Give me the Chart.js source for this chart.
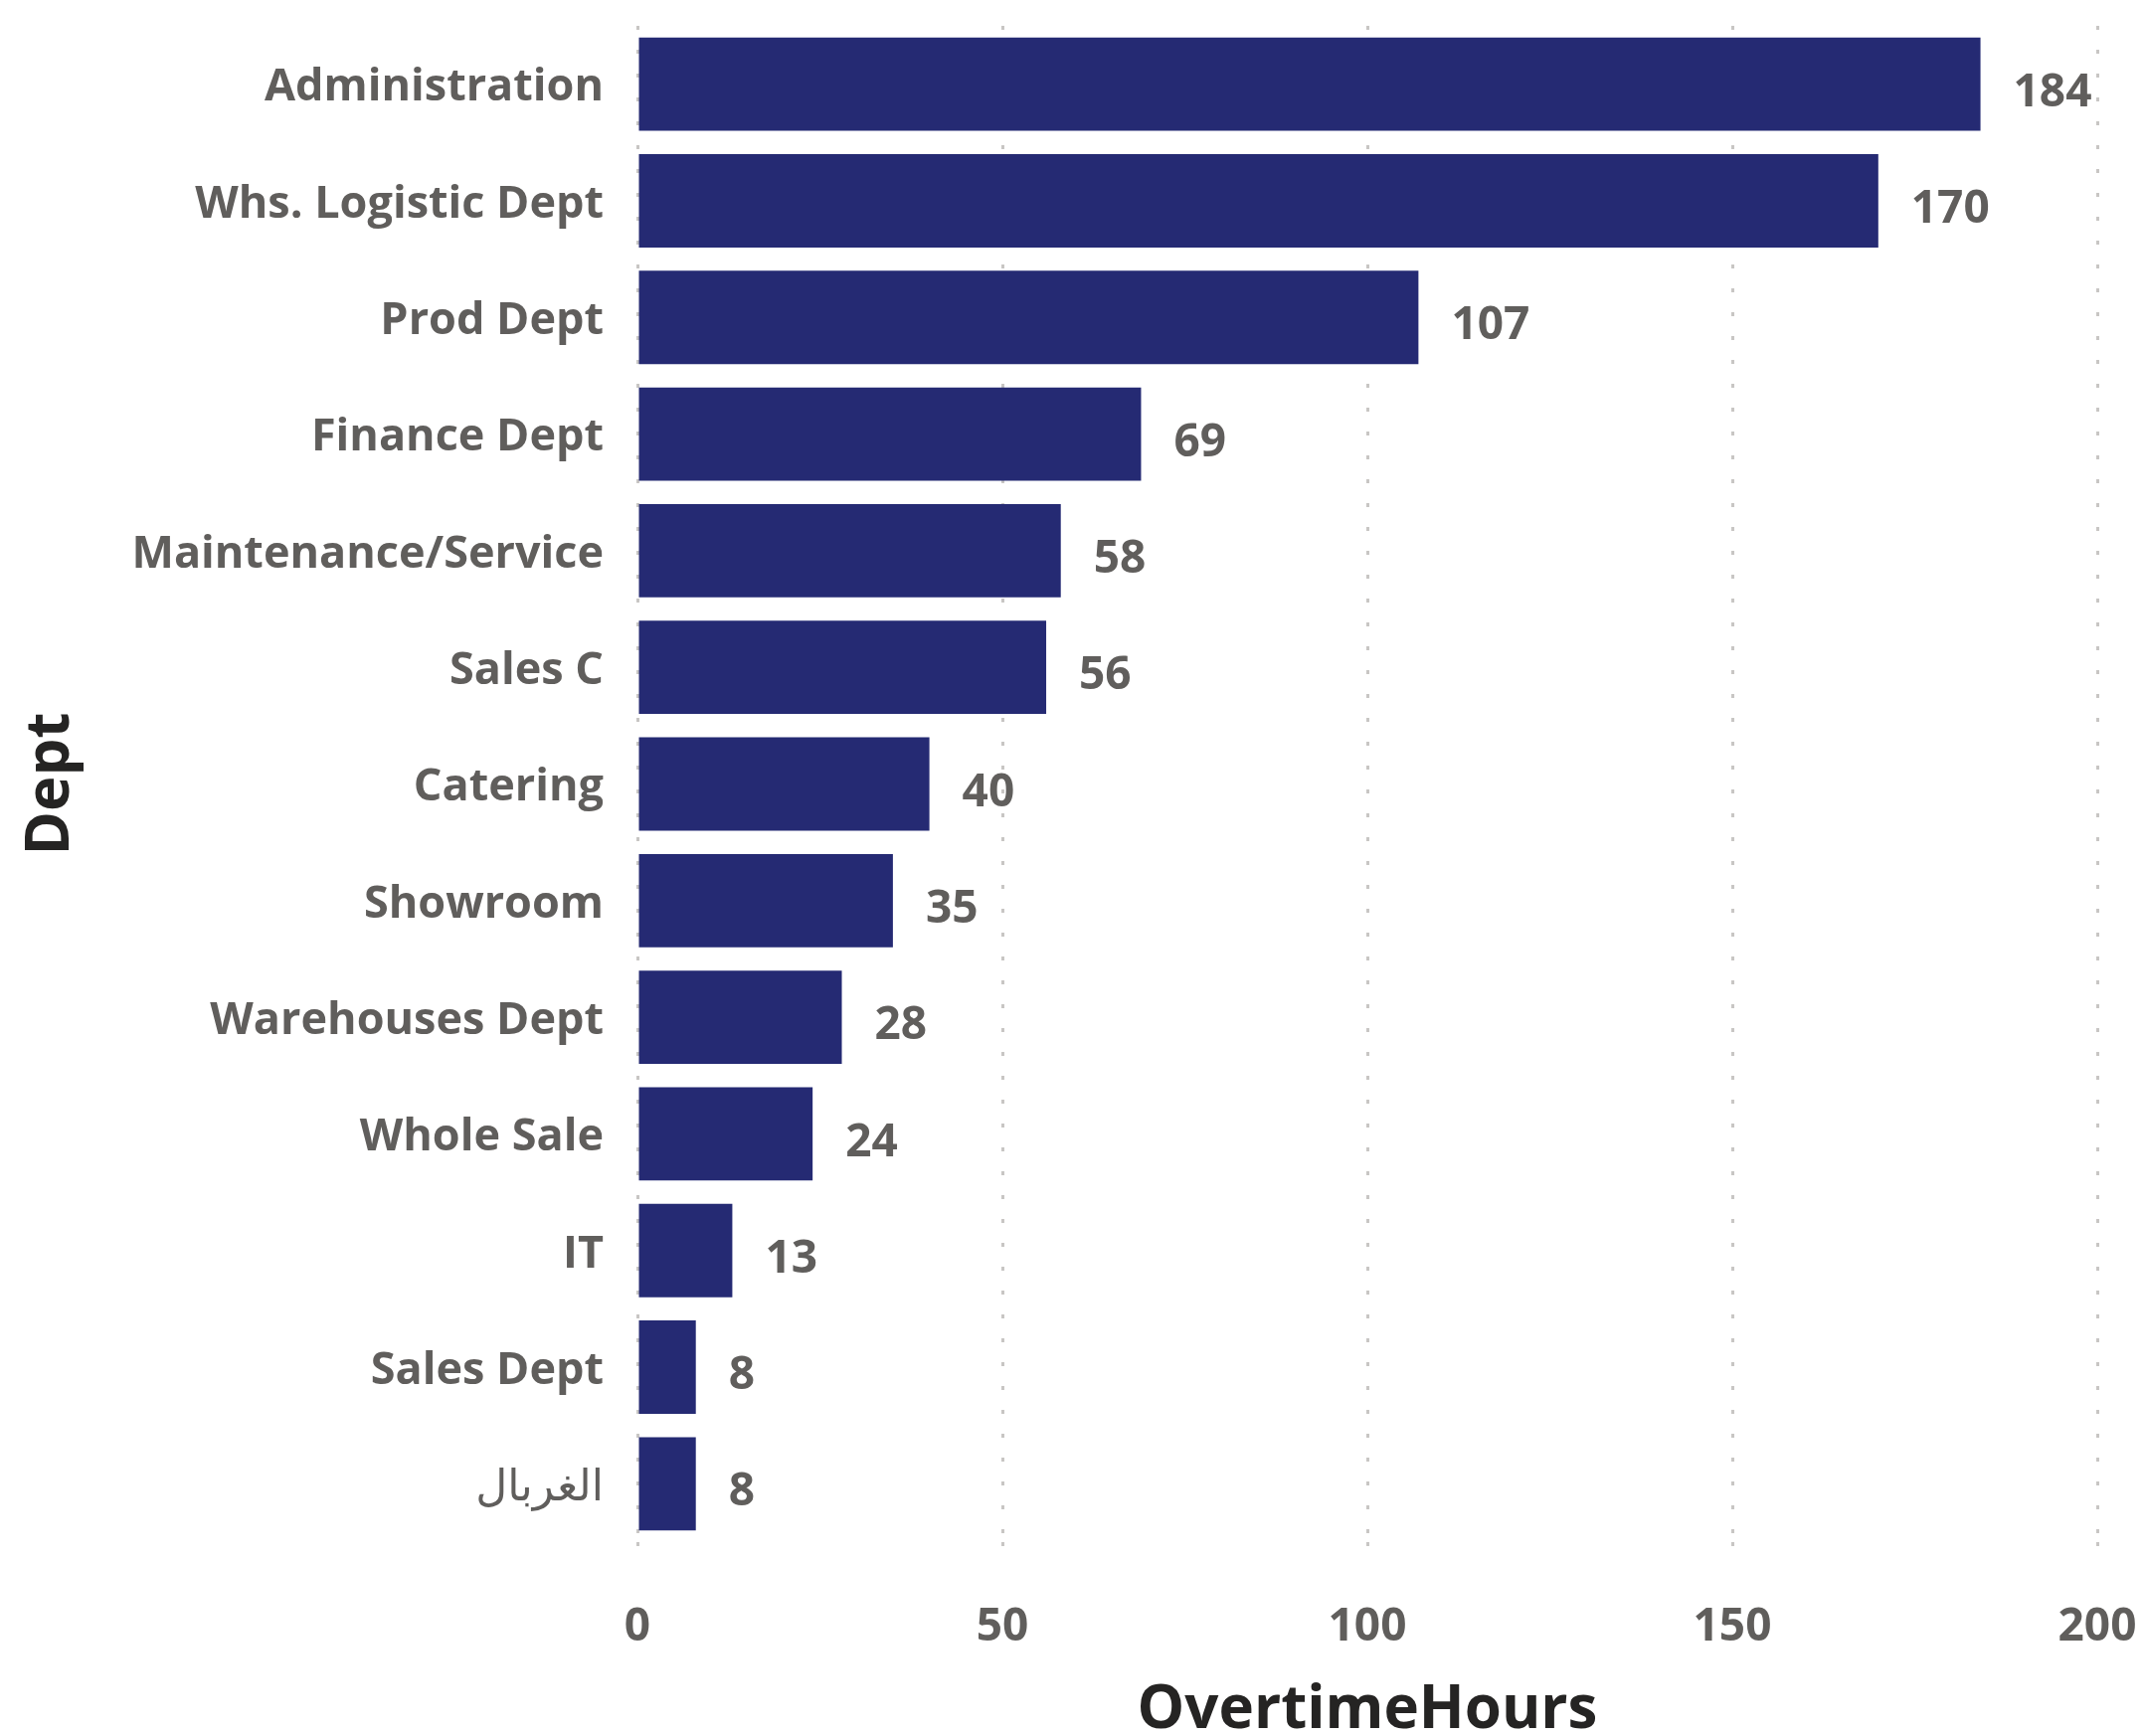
<!DOCTYPE html>
<html>
<head>
<meta charset="utf-8">
<style>
  html, body { margin: 0; padding: 0; background: #ffffff; }
  #wrap { width: 2157px; height: 1746px; }
</style>
<script src="https://cdn.jsdelivr.net/npm/chart.js@4.4.1/dist/chart.umd.min.js"></script>
</head>
<body>
<div id="wrap"><canvas id="c" width="2157" height="1746"></canvas></div>
<script>
const departments = ["Administration", "Whs. Logistic Dept", "Prod Dept", "Finance Dept", "Maintenance/Service", "Sales C", "Catering", "Showroom", "Warehouses Dept", "Whole Sale", "IT", "Sales Dept", "الغربال"];
const overtimeHours = [184, 170, 107, 69, 58, 56, 40, 35, 28, 24, 13, 8, 8];
const xTicks = [0, 50, 100, 150, 200];
const xTitle = "OvertimeHours";
const yTitle = "Dept";

const FAMILY = "'Open Sans', 'DejaVu Sans', sans-serif";
const LABEL_COLOR = "#605E5C";
const TITLE_COLOR = "#252423";
const BAR_COLOR = "#252A73";

const dataLabels = {
  id: 'dataLabels',
  afterDatasetsDraw(chart) {
    const ctx = chart.ctx;
    const meta = chart.getDatasetMeta(0);
    const values = chart.data.datasets[0].data;
    ctx.save();
    ctx.font = "bold 46px " + FAMILY;
    ctx.fillStyle = LABEL_COLOR;
    ctx.textAlign = 'left';
    ctx.textBaseline = 'middle';
    meta.data.forEach((bar, i) => {
      ctx.fillText(String(values[i]), bar.x + 33, bar.y + 9);
    });
    ctx.restore();
  }
};

new Chart(document.getElementById('c'), {
  type: 'bar',
  data: {
    labels: departments,
    datasets: [{
      data: overtimeHours,
      backgroundColor: BAR_COLOR,
      borderWidth: 0,
      categoryPercentage: 1.0,
      barPercentage: 0.8
    }]
  },
  options: {
    indexAxis: 'y',
    responsive: false,
    animation: false,
    devicePixelRatio: 1,
    layout: { padding: { left: 0, right: 48, top: 26, bottom: 0 } },
    plugins: { legend: { display: false }, tooltip: { enabled: false } },
    scales: {
      x: {
        type: 'linear',
        min: 0,
        max: 200,
        afterBuildTicks(scale) { scale.ticks = xTicks.map(v => ({ value: v })); },
        afterFit(scale) {
          scale.height = 195;
          scale.paddingLeft = 0; scale.paddingRight = 0;
        },
        border: { display: false, dash: [4, 20] },
        grid: {
          color: '#C8C6C4',
          lineWidth: 3,
          drawTicks: true,
          tickLength: 11,
          tickColor: '#C8C6C4',
          tickWidth: 3,
          tickBorderDash: [4, 20]
        },
        ticks: {
          color: LABEL_COLOR,
          font: { family: FAMILY, size: 46, weight: 'bold' },
          padding: 47
        },
        title: {
          display: true,
          text: xTitle,
          color: TITLE_COLOR,
          font: { family: FAMILY, size: 60, weight: 'bold', lineHeight: 1 },
          padding: { top: 0, bottom: -5 }
        }
      },
      y: {
        type: 'category',
        afterFit(scale) {
          scale.width = 641;
          scale.paddingTop = 0; scale.paddingBottom = 0;
        },
        border: { display: false },
        grid: { display: false },
        ticks: {
          color: LABEL_COLOR,
          padding: 26,
          labelOffset: 4,
          font: (ctx) => {
            const lbl = departments[ctx.index] || '';
            const arabic = /[\u0600-\u06FF]/.test(lbl);
            return arabic
              ? { family: FAMILY, size: 44, weight: 'normal' }
              : { family: FAMILY, size: 45, weight: 'bold' };
          }
        },
        title: {
          display: true,
          text: yTitle,
          color: TITLE_COLOR,
          font: { family: FAMILY, size: 60, weight: 'bold', lineHeight: 1 },
          padding: { top: 22, bottom: 0 }
        }
      }
    }
  },
  plugins: [dataLabels]
});
</script>
</body>
</html>
